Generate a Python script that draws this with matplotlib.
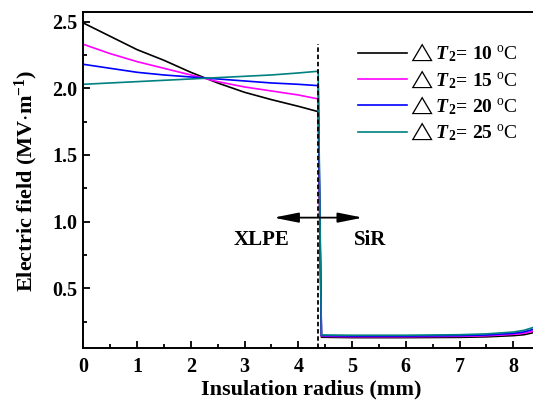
import numpy as np
from matplotlib import pyplot as plt

plt.rcParams['font.family'] = ['Liberation Serif', 'DejaVu Serif']
plt.rcParams['mathtext.fontset'] = 'custom'
plt.rcParams['mathtext.rm'] = 'Liberation Serif'
plt.rcParams['mathtext.it'] = 'Liberation Serif:italic'
plt.rcParams['mathtext.bf'] = 'Liberation Serif:bold'
plt.rcParams['mathtext.bfit'] = 'Liberation Serif:italic:bold'
plt.rcParams['mathtext.fallback'] = 'stix'

# XLPE layer (inner part of the insulation)
xXlpe = np.array([0, 0.5, 1, 1.5, 2, 2.5, 3, 3.5, 4, 4.37])
eXlpe = {
    10: [2.49, 2.39, 2.29, 2.21, 2.12, 2.04, 1.97, 1.915, 1.865, 1.825],
    15: [2.33, 2.26, 2.20, 2.15, 2.10, 2.05, 2.01, 1.98, 1.95, 1.92],
    20: [2.18, 2.15, 2.12, 2.10, 2.085, 2.07, 2.055, 2.04, 2.03, 2.02],
    25: [2.03, 2.04, 2.05, 2.06, 2.07, 2.08, 2.09, 2.10, 2.115, 2.128],
}

# SiR layer (outer part)
xSir = np.array([4.43, 5, 6, 7, 7.5, 8, 8.2, 8.4])
eSir = {
    10: [0.133, 0.130, 0.130, 0.132, 0.136, 0.145, 0.152, 0.170],
    15: [0.140, 0.137, 0.137, 0.140, 0.144, 0.155, 0.163, 0.180],
    20: [0.145, 0.142, 0.142, 0.145, 0.150, 0.162, 0.173, 0.195],
    25: [0.150, 0.148, 0.148, 0.152, 0.158, 0.172, 0.185, 0.210],
}

deltaT = [10, 15, 20, 25]
colors = ['black', '#FF00FF', '#0000FF', '#008080']

interface = 4.37

fig = plt.figure(figsize=(5.33, 4.03), dpi=100)
ax = fig.add_axes([83.3/533, 54.7/403, 456.9/533, 336/403])

for dT, c in zip(deltaT, colors):
    x = np.concatenate([xXlpe, xSir])
    e = np.concatenate([eXlpe[dT], eSir[dT]])
    label = r'$\triangle\mathbfit{T}_{\mathbf{2}}\!\mathbf{=}\!\ \mathbf{%d}\ ^{\mathrm{o}}\mathrm{C}$' % dT
    ax.plot(x, e, color=c, lw=1.2, label=label)

ax.plot([interface, interface], [0.05, 2.33], color='black', lw=1.3, linestyle=(0, (2.5, 1.5)))

ax.annotate('', xy=(3.54, 1.03), xytext=(5.2, 1.03),
            arrowprops=dict(arrowstyle='<|-|>,head_length=1.5,head_width=0.3',
                            color='black', lw=1.3, shrinkA=0, shrinkB=0, mutation_scale=10))
ax.text(3.32, 0.86, 'XLPE', ha='center', va='center', fontsize=15, fontweight='bold')
ax.text(5.33, 0.86, 'SiR', ha='center', va='center', fontsize=15, fontweight='bold')

ax.set_xlim(0, 8.5)
ax.set_ylim(0.05, 2.57)
ax.set_xticks([0, 1, 2, 3, 4, 5, 6, 7, 8])
ax.set_xticks(np.arange(0.5, 8.5, 1), minor=True)
ax.set_yticks([0.5, 1.0, 1.5, 2.0, 2.5])
ax.set_yticks([0.25, 0.75, 1.25, 1.75, 2.25], minor=True)
ax.tick_params(which='both', direction='in', width=1.3, top=False, right=False, labelsize=14.5)
ax.tick_params(which='major', length=5)
ax.tick_params(which='minor', length=3)
ax.tick_params(axis='x', which='major', pad=6)
ax.tick_params(axis='y', which='major', pad=4)
for lab in ax.get_xticklabels() + ax.get_yticklabels():
    lab.set_fontweight('bold')
for sp in ax.spines.values():
    sp.set_linewidth(1.4)

ax.set_xlabel('Insulation radius (mm)', fontsize=16, fontweight='bold', labelpad=2)
ax.set_ylabel(r'Electric field (MV$\cdot$m$^{\mathbf{-1}}$)', fontsize=16, fontweight='bold', labelpad=9)

ax.legend(loc='upper left', bbox_to_anchor=(0.601, 0.912), frameon=False, fontsize=14,
          borderpad=0, borderaxespad=0, handlelength=2.5, handletextpad=0.1, labelspacing=0.2)

fig.savefig('out.png', dpi=100)
